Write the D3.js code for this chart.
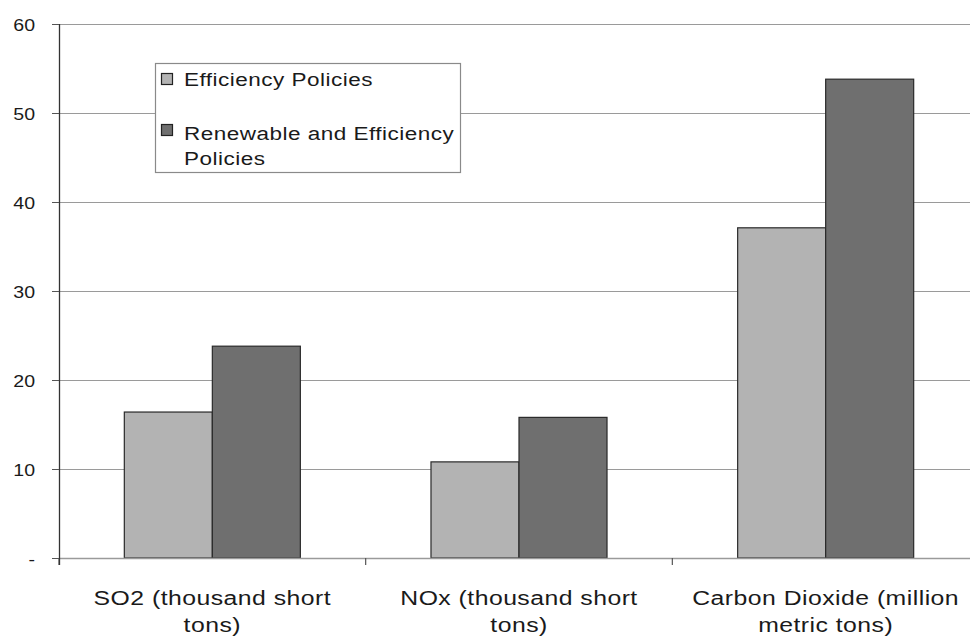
<!DOCTYPE html>
<html>
<head>
<meta charset="utf-8">
<script src="https://cdn.jsdelivr.net/npm/d3@7"></script>
<style>
  html, body { margin: 0; padding: 0; background: #fff; }
  svg { display: block; }
  text { font-family: "Liberation Sans", Arial, sans-serif; fill: #1a1a1a; }
</style>
</head>
<body>
<svg id="chart" width="970" height="639"></svg>
<script>
const categories = [
  "SO2 (thousand short tons)",
  "NOx (thousand short tons)",
  "Carbon Dioxide (million metric tons)"
];
const categoryLines = [
  ["SO2 (thousand short", "tons)"],
  ["NOx (thousand short", "tons)"],
  ["Carbon Dioxide (million", "metric tons)"]
];
const seriesNames = ["Efficiency Policies", "Renewable and Efficiency Policies"];
const legendLines = [["Efficiency Policies"], ["Renewable and Efficiency", "Policies"]];
const efficiencyValues = [16.4, 10.8, 37.1];
const renewableValues = [23.8, 15.8, 53.8];
const yTicks = [0, 10, 20, 30, 40, 50, 60];
const yTickLabels = ["-", "10", "20", "30", "40", "50", "60"];

const seriesValues = [efficiencyValues, renewableValues];
const colors = ["#b3b3b3", "#6f6f6f"];

const svg = d3.select("#chart");
const plotLeft = 59, plotRight = 979, plotTop = 24, plotBottom = 558;

const x0 = d3.scaleBand().domain(categories).range([plotLeft, plotRight])
  .paddingInner(0.426).paddingOuter(0.213);
const x1 = d3.scaleBand().domain(seriesNames).range([0, x0.bandwidth()]);
const y = d3.scaleLinear().domain([0, 60]).range([plotBottom, plotTop]);

// gridlines
svg.append("g").selectAll("line").data(yTicks.filter(d => d > 0)).join("line")
  .attr("x1", plotLeft).attr("x2", 970)
  .attr("y1", d => y(d) + 0.5).attr("y2", d => y(d) + 0.5)
  .attr("stroke", "#9a9a9a").attr("stroke-width", 1.2);

// bars
const groups = svg.append("g").selectAll("g").data(categories).join("g")
  .attr("transform", d => `translate(${x0(d)},0)`);
groups.selectAll("rect")
  .data((c, i) => seriesNames.map((s, j) => ({ s, v: seriesValues[j][i], j })))
  .join("rect")
  .attr("x", d => x1(d.s))
  .attr("y", d => y(d.v))
  .attr("width", x1.bandwidth())
  .attr("height", d => y(0) - y(d.v))
  .attr("fill", d => colors[d.j])
  .attr("stroke", "#2a2a2a")
  .attr("stroke-width", 1.2);

// x axis line (baseline)
svg.append("line").attr("x1", plotLeft).attr("x2", 970)
  .attr("y1", plotBottom + 0.5).attr("y2", plotBottom + 0.5)
  .attr("stroke", "#9a9a9a").attr("stroke-width", 1.5);
// category boundary ticks
const boundaries = categories.map(c => x0(c) - x0.step() * x0.paddingInner() / 2).concat([plotRight]);
svg.append("g").selectAll("line").data(boundaries).join("line")
  .attr("x1", d => d).attr("x2", d => d)
  .attr("y1", plotBottom).attr("y2", plotBottom + 7)
  .attr("stroke", "#555").attr("stroke-width", 1.2);

// y axis
const yAxis = d3.axisLeft(y).tickValues(yTicks)
  .tickFormat((d, i) => yTickLabels[i]).tickSize(7).tickPadding(17);
const yg = svg.append("g").attr("transform", `translate(${plotLeft},0)`).call(yAxis);
yg.select(".domain").attr("stroke", "#333").attr("stroke-width", 1.3)
  .attr("d", `M0.5,${plotTop}V${plotBottom + 7}`);
yg.selectAll(".tick line").attr("stroke", "#555");
const ySx = 1.15;
yg.selectAll(".tick text")
  .style("font-size", "17px")
  .attr("fill", "#1a1a1a").attr("dy", "0.36em")
  .attr("x", -24 / ySx)
  .attr("transform", `scale(${ySx},1)`);

// x category labels (horizontally stretched like the scanned original)
const xSx = 1.18;
const xl = svg.append("g").selectAll("g").data(categories).join("g")
  .attr("transform", d => `translate(${x0(d) + x0.bandwidth() / 2},605) scale(${xSx},1)`);
xl.each(function(d, i) {
  const t = d3.select(this).append("text").attr("text-anchor", "middle")
    .style("font-size", "21px").style("letter-spacing", "0.4px");
  categoryLines[i].forEach((ln, k) => {
    t.append("tspan").attr("x", 0).attr("dy", k === 0 ? 0 : 27).text(ln);
  });
});

// legend
const lg = svg.append("g");
lg.append("rect").attr("x", 155.5).attr("y", 63.5).attr("width", 305).attr("height", 109)
  .attr("fill", "#fff").attr("stroke", "#8a8a8a").attr("stroke-width", 1.2);
const swY = [73, 124];
const txtY = [86, 140];
const lSx = 1.25;
seriesNames.forEach((s, j) => {
  lg.append("rect").attr("x", 161.5).attr("y", swY[j] + 0.5).attr("width", 11).attr("height", 11)
    .attr("fill", colors[j]).attr("stroke", "#222").attr("stroke-width", 1.2);
  const t = lg.append("g").attr("transform", `translate(184,${txtY[j]}) scale(${lSx},1)`)
    .append("text")
    .style("font-size", "18px").style("letter-spacing", "0.4px");
  legendLines[j].forEach((ln, k) => {
    t.append("tspan").attr("x", 0).attr("dy", k === 0 ? 0 : 25).text(ln);
  });
});
</script>
</body>
</html>
